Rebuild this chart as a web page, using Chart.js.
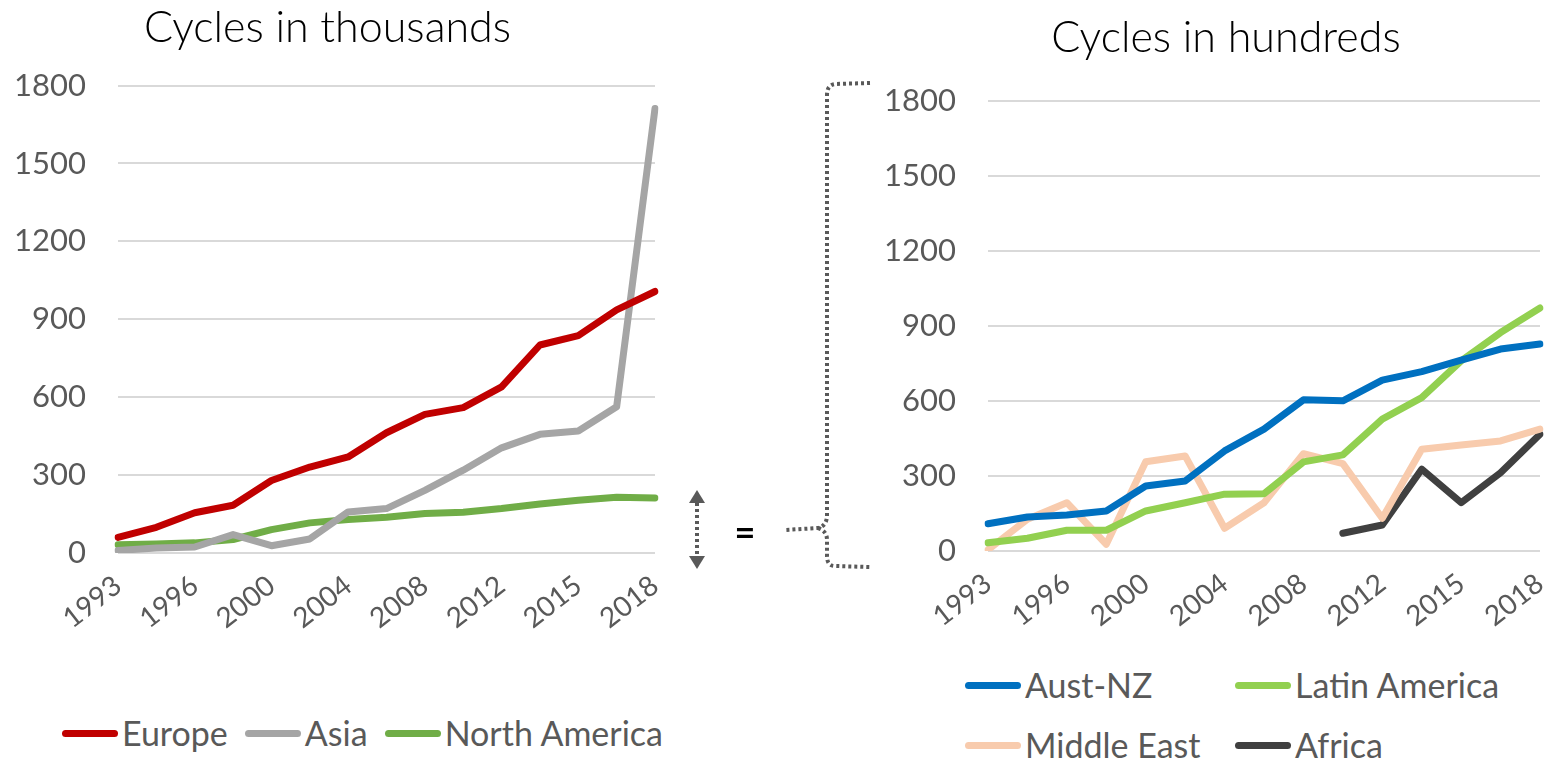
<!DOCTYPE html>
<html>
<head>
<meta charset="utf-8">
<script src="https://cdn.jsdelivr.net/npm/chart.js@4.4.0/dist/chart.umd.min.js"></script>
<style>
  body { margin: 0; background: #fff; width: 1548px; height: 759px; position: relative; overflow: hidden; font-family: Lato, "Open Sans", sans-serif; }
  .box { position: absolute; }
  #leftBox { left: 0; top: 0; width: 668px; height: 640px; }
  #rightBox { left: 870px; top: 0; width: 678px; height: 640px; }
  .legend { position: absolute; display: grid; color: #595959; font-size: 34px; line-height: 40px; }
  .legend .item { display: flex; align-items: center; white-space: nowrap; }
  .legend .swatch { width: 56px; height: 7px; border-radius: 4px; margin-right: 4px; }
  #leftLegend { left: 62px; top: 713px; grid-template-columns: auto auto auto; column-gap: 17px; }
  #rightLegend { left: 965px; top: 665px; grid-template-columns: 270px 280px; row-gap: 20px; }
  #deco { position: absolute; left: 0; top: 0; }
</style>
</head>
<body>
<div class="box" id="leftBox"><canvas id="leftChart"></canvas></div>
<div class="box" id="rightBox"><canvas id="rightChart"></canvas></div>
<div class="legend" id="leftLegend"></div>
<div class="legend" id="rightLegend"></div>
<svg id="deco" width="1548" height="759">
  <g stroke="#595959" stroke-width="4" fill="none" stroke-dasharray="3 3">
    <line x1="697" y1="503" x2="697" y2="556"/>
    <path d="M870 83 L835 84 Q827 85 827 95 L827 515 Q827 526 818 528 L785 530"/>
    <path d="M818 528 Q827 531 827 540 L827 556 Q827 566 835 566 L870 567"/>
  </g>
  <polygon points="689,503 705,503 697,490" fill="#595959"/>
  <polygon points="689,556 705,556 697,569" fill="#595959"/>
  <text x="745" y="545" font-size="36" font-weight="bold" text-anchor="middle" fill="#000" font-family="Lato">=</text>
</svg>
<script>
// years on the category axis (only every other one is labelled)
const years = ['1993','1994','1996','1998','2000','2002','2004','2006','2008','2010','2012','2014','2015','2017','2018'];

// left panel, cycles in thousands
const europe = [60, 99, 155, 184, 279, 331, 370, 463, 534, 560, 640, 801, 837, 936, 1007];
const asia = [10, 19, 23, 71, 28, 54, 158, 171, 241, 319, 405, 457, 470, 563, 1712];
const northAmerica = [32, 35, 39, 52, 90, 116, 129, 138, 152, 157, 171, 189, 203, 215, 212];

// right panel, cycles in hundreds
const austNZ = [109, 136, 144, 160, 260, 280, 400, 487, 604, 600, 683, 717, 763, 807, 827];
const latinAmerica = [33, 51, 83, 83, 160, 193, 227, 229, 356, 384, 527, 613, 760, 873, 971];
const middleEast = [5, 127, 193, 27, 357, 380, 91, 193, 389, 349, 131, 407, 424, 440, 487];
const africa = [null, null, null, null, null, null, null, null, null, 71, 104, 327, 193, 313, 467];

const yTicks = [0, 300, 600, 900, 1200, 1500, 1800];

const FONT = 'Lato, "Open Sans", sans-serif';
const GREY = '#595959';

function line(label, data, color) {
  return {
    label: label, data: data, borderColor: color, backgroundColor: color,
    borderWidth: 7, pointRadius: 0, tension: 0,
    borderCapStyle: 'round', borderJoinStyle: 'round', spanGaps: false
  };
}

function makeOptions(title, titlePad, rightPad, xHeight) {
  return {
    responsive: false,
    animation: false,
    layout: { padding: { top: 0, right: rightPad, left: 0, bottom: 0 } },
    plugins: {
      legend: { display: false },
      tooltip: { enabled: false },
      title: {
        display: true, text: title, color: '#000',
        font: { family: FONT, size: 43, weight: '300' },
        padding: titlePad
      }
    },
    scales: {
      x: {
        offset: false,
        // fixed axis height, and no extra room kept for the rotated last label
        afterFit: function (s) { s.height = xHeight; s.paddingRight = 0; },
        grid: { display: false },
        border: { display: false },
        ticks: {
          autoSkip: false, minRotation: 38, maxRotation: 38, padding: 8,
          color: GREY, font: { family: FONT, size: 28 },
          callback: function (v, i) { return i % 2 === 0 ? this.getLabelForValue(v) : ''; }
        }
      },
      y: {
        min: yTicks[0], max: yTicks[yTicks.length - 1],
        afterFit: function (s) { s.width = 118; },
        grid: { color: '#d9d9d9', lineWidth: 2, drawTicks: false },
        border: { display: false },
        ticks: {
          stepSize: yTicks[1] - yTicks[0], padding: 32, color: GREY,
          font: { family: FONT, size: 31 },
          callback: function (v) { return String(v); }
        }
      }
    }
  };
}

// the right title sits a bit right of the canvas centre in the original
const titleShift = {
  id: 'titleShift',
  afterLayout: function (chart) { if (chart.titleBlock) chart.titleBlock.left += 42; }
};

function sizeCanvas(id, w, h) {
  const c = document.getElementById(id);
  c.width = w; c.height = h;
  c.style.width = w + 'px'; c.style.height = h + 'px';
  return c;
}

const left = new Chart(sizeCanvas('leftChart', 668, 640), {
  type: 'line',
  data: {
    labels: years,
    datasets: [line('Europe', europe, '#c00000'), line('Asia', asia, '#a5a5a5'), line('North America', northAmerica, '#70ad47')]
  },
  options: makeOptions('Cycles in thousands', { top: 2, bottom: 32 }, 13, 87)
});

const right = new Chart(sizeCanvas('rightChart', 678, 640), {
  type: 'line',
  data: {
    labels: years,
    datasets: [line('Aust-NZ', austNZ, '#0070c0'), line('Latin America', latinAmerica, '#92d050'),
               line('Middle East', middleEast, '#f8cbad'), line('Africa', africa, '#404040')]
  },
  options: makeOptions('Cycles in hundreds', { top: 12, bottom: 37 }, 8, 89),
  plugins: [titleShift]
});

function buildLegend(chart, id) {
  const el = document.getElementById(id);
  chart.data.datasets.forEach(function (ds) {
    const item = document.createElement('div');
    item.className = 'item';
    const sw = document.createElement('span');
    sw.className = 'swatch';
    sw.style.background = ds.borderColor;
    const tx = document.createElement('span');
    tx.textContent = ds.label;
    item.appendChild(sw); item.appendChild(tx);
    el.appendChild(item);
  });
}
buildLegend(left, 'leftLegend');
buildLegend(right, 'rightLegend');
</script>
</body>
</html>
